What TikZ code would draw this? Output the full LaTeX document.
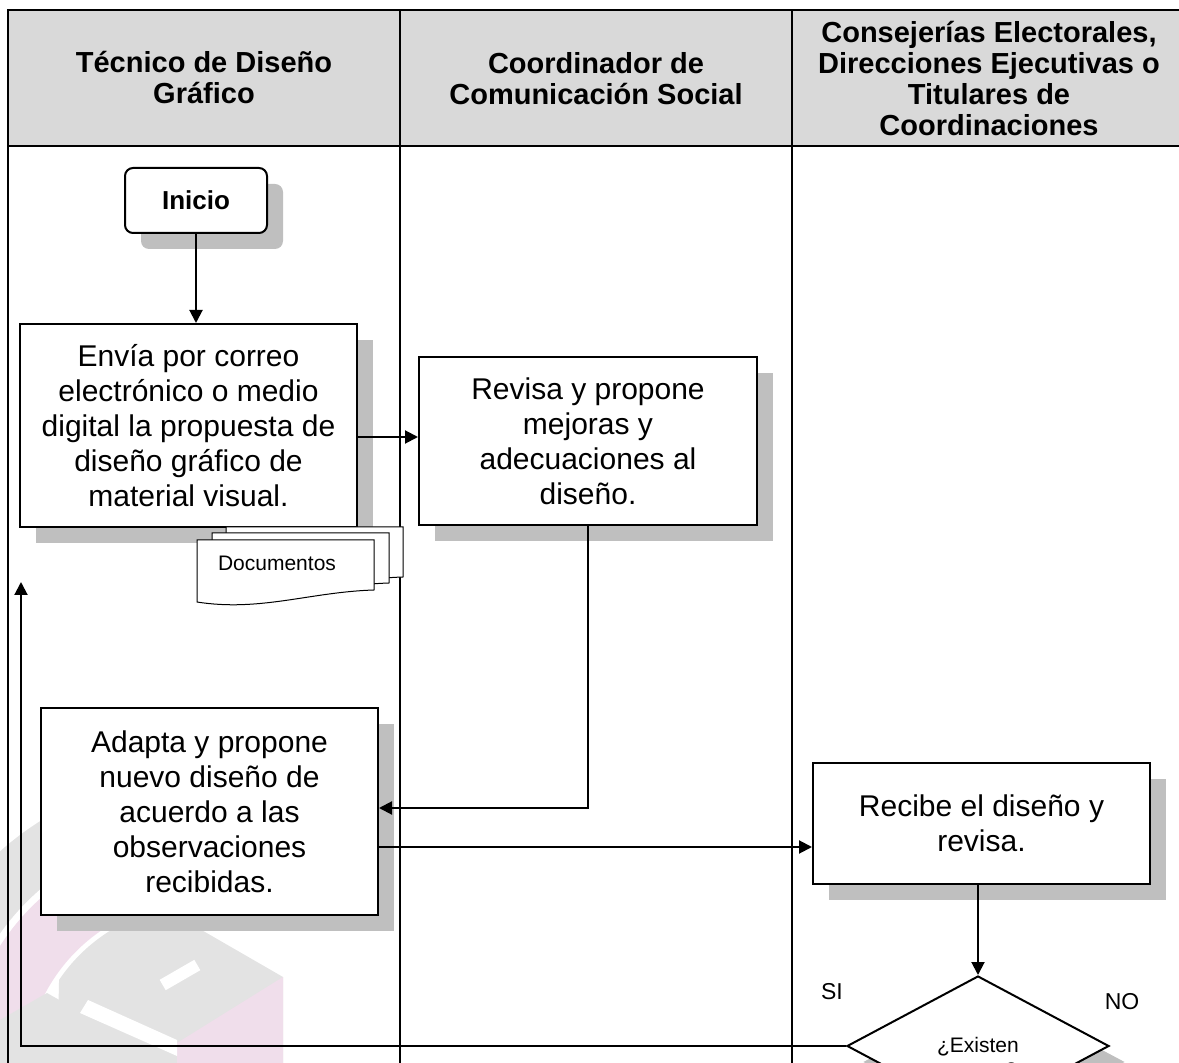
\documentclass[tikz,border=0pt]{standalone}
\usepackage{fontspec}
\setmainfont{Liberation Sans}
\usetikzlibrary{arrows.meta,shadows,shapes.geometric,positioning}
\definecolor{hdrgray}{HTML}{D9D9D9}
\definecolor{shdgray}{HTML}{BFBFBF}
\definecolor{wmgray}{HTML}{E3E3E3}
\definecolor{wmpink}{HTML}{F0DEEB}

\begin{document}
\begin{tikzpicture}[x=0.5pt, y=-0.5pt,
  lane/.style={line width=1.25pt},
  boxshadow/.style={drop shadow={shadow xshift=8pt, shadow yshift=-8pt, fill=shdgray, opacity=1}},
  proc/.style={draw, line width=1pt, fill=white, boxshadow, align=center, inner sep=0pt, font=\fontsize{15}{17.5}\selectfont},
  head/.style={align=center, font=\bfseries\fontsize{14.5}{15.5}\selectfont},
  flow/.style={line width=1pt, -{Triangle[length=6.5pt,width=6.5pt]}},
  doc/.style={draw, line width=0.5pt, fill=white}]
  \useasboundingbox (0,0) rectangle (1179,1063);
  \clip (0,0) rectangle (1179,1063);

  % watermark
  \fill[wmgray] ([shift={(200,1075)}]185:245) arc[start angle=185, end angle=255, radius=245]
    -- ([shift={(200,1075)}]255:300) arc[start angle=255, end angle=185, radius=300] -- cycle;
  \fill[wmpink] ([shift={(200,1075)}]170:175) arc[start angle=170, end angle=240, radius=175]
    -- ([shift={(200,1075)}]240:238) arc[start angle=240, end angle=170, radius=238] -- cycle;
  \fill[wmgray] ([shift={(200,1075)}]214:170) arc[start angle=214, end angle=258, radius=170]
    -- (283,977) -- (283,1070) -- (57,1070) -- cycle;
  \fill[wmgray] (0,1020) -- (47,993) -- (153,1053) -- (153,1070) -- (0,1070) -- cycle;
  \fill[wmpink] (177,1043) -- (283,977) -- (283,1070) -- (177,1070) -- cycle;
  \fill[white] (88,1000) -- (177,1040) -- (177,1056) -- (80,1013) -- cycle;
  \fill[white, rotate around={30:(180,975)}] (160,969) rectangle (200,981);

  % swimlanes
  \fill[hdrgray] (8,10) rectangle (1190,146);
  \draw[lane] (8,1070) -- (8,10) -- (1190,10);
  \draw[lane] (8,146) -- (1190,146);
  \draw[lane] (400,10) -- (400,1070);
  \draw[lane] (792,10) -- (792,1070);
  \node[head] (tecnico) at (204,78) {Técnico de Diseño\\Gráfico};
  \node[head] (coord) at (596,79) {Coordinador de\\Comunicación Social};
  \node[head] (consej) at (989,79) {Consejerías Electorales,\\Direcciones Ejecutivas o\\Titulares de\\Coordinaciones};

  % steps
  \node[proc, rounded corners=4pt, minimum width=71pt, minimum height=32.5pt,
        font=\bfseries\fontsize{13}{15}\selectfont] (inicio) at (196,200.5) {Inicio};
  \node[proc, minimum width=168.5pt, minimum height=101.5pt] (envia) at (188.5,425.5)
    {Envía por correo\\electrónico o medio\\digital la propuesta de\\diseño gráfico de\\material visual.};
  \node[proc, minimum width=169pt, minimum height=84pt] (revisa) at (588,441)
    {Revisa y propone\\mejoras y\\adecuaciones al\\diseño.};
  \node[proc, minimum width=168.5pt, minimum height=103.5pt] (adapta) at (209.5,811.5)
    {Adapta y propone\\nuevo diseño de\\acuerdo a las\\observaciones\\recibidas.};
  \node[proc, minimum width=168.5pt, minimum height=60.5pt] (recibe) at (981.5,823.5)
    {Recibe el diseño y\\revisa.};
  \node[draw, diamond, line width=1pt, fill=white, boxshadow, inner sep=0pt,
        minimum width=131pt, minimum height=70pt] (errores) at (978,1046) {};
  \node[align=center, font=\fontsize{10.5}{12.5}\selectfont] (pregunta) at (978,1057) {¿Existen\\errores?};

  % documentos
  \foreach \dx/\dy in {29/-13, 15/-7, 0/0}
    \draw[doc, shift={(\dx,\dy)}] (197,540) -- (374,540) -- (374,590)
      .. controls (310,592) and (260,612) .. (197,602) -- cycle;
  \node[font=\fontsize{10.5}{12.5}\selectfont] (docs) at (277,563) {Documentos};

  % flujo
  \coordinate (e1) at ([yshift=-5.75pt]envia.east);
  \coordinate (e2) at ([yshift=-17.75pt]adapta.east);
  \coordinate (back) at (21,582);
  \draw[flow] (inicio) -- (inicio |- envia.north);
  \draw[flow] (e1) -- (e1 -| revisa.west);
  \draw[flow] (revisa.south) |- ([yshift=1.75pt]adapta.east);
  \draw[flow] (e2) -- (e2 -| recibe.west);
  \draw[flow] (recibe.south -| errores.north) -- (errores.north);
  \draw[flow] (errores.west) -| (back);
  \node[font=\fontsize{11.5}{13}\selectfont] (si) at (832,992) {SI};
  \node[font=\fontsize{11.5}{13}\selectfont] (no) at (1122,1002) {NO};
\end{tikzpicture}
\end{document}
